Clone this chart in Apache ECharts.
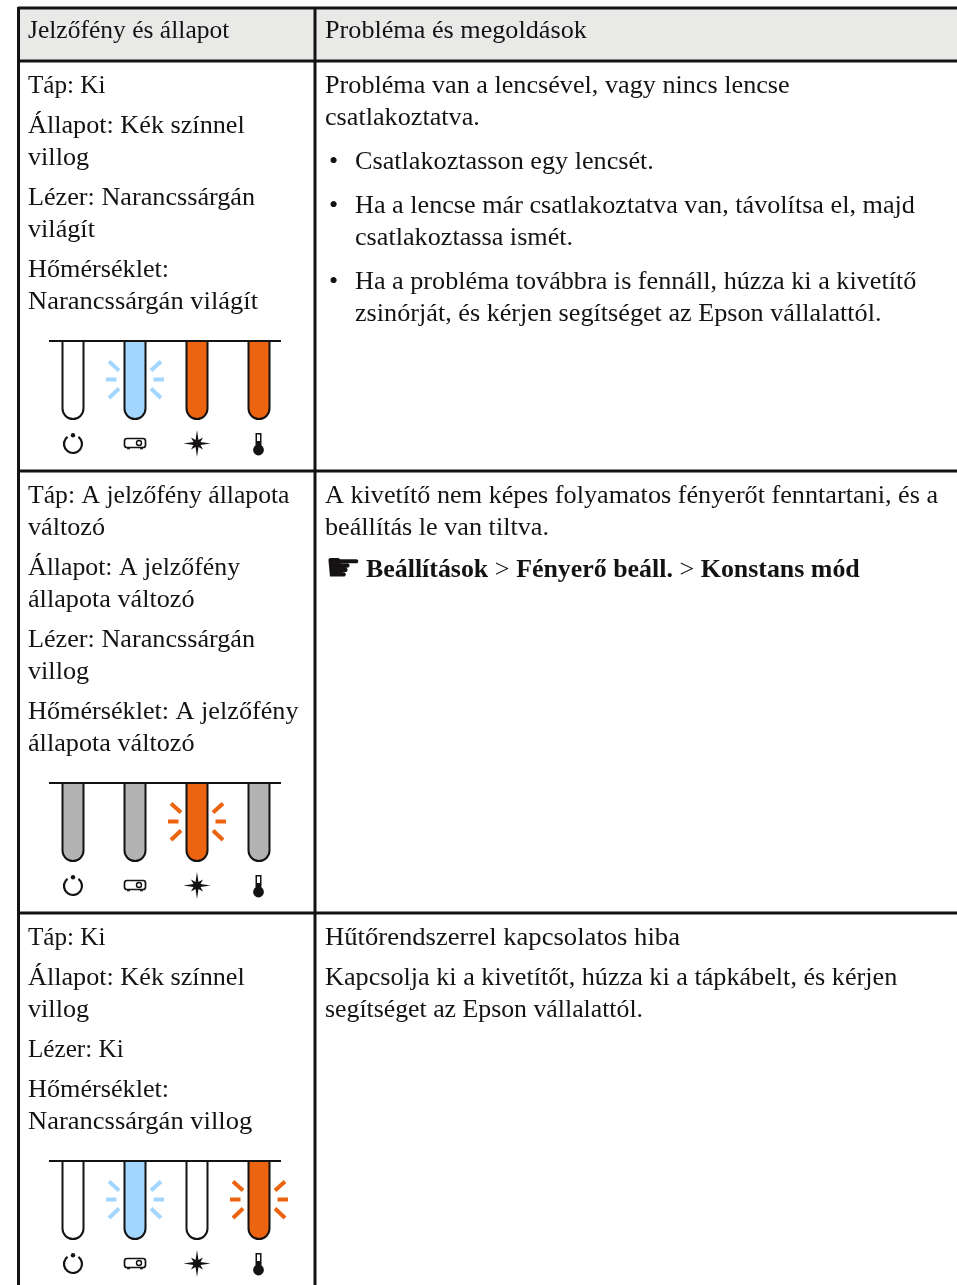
<!DOCTYPE html>
<html>
<head>
<meta charset="utf-8">
<title>Jelzőfény és állapot</title>
<style>
  html, body { margin: 0; padding: 0; background: #fff; }
  #main { width: 957px; height: 1285px; }
</style>
</head>
<body>
<div id="main"></div>
<script src="https://cdn.jsdelivr.net/npm/echarts@6/dist/echarts.min.js"></script>
<script>
// table text, one inner list per paragraph
const headers = ['Jelzőfény és állapot', 'Probléma és megoldások']

const leftRow1 = [['Táp: Ki'], ['Állapot: Kék színnel', 'villog'], ['Lézer: Narancssárgán', 'világít'], ['Hőmérséklet:', 'Narancssárgán világít']]
const leftRow2 = [['Táp: A jelzőfény állapota', 'változó'], ['Állapot: A jelzőfény', 'állapota változó'], ['Lézer: Narancssárgán', 'villog'], ['Hőmérséklet: A jelzőfény', 'állapota változó']]
const leftRow3 = [['Táp: Ki'], ['Állapot: Kék színnel', 'villog'], ['Lézer: Ki'], ['Hőmérséklet:', 'Narancssárgán villog']]

const rightRow1 = [['Probléma van a lencsével, vagy nincs lencse', 'csatlakoztatva.']]
const bulletsRow1 = [['Csatlakoztasson egy lencsét.'], ['Ha a lencse már csatlakoztatva van, távolítsa el, majd', 'csatlakoztassa ismét.'], ['Ha a probléma továbbra is fennáll, húzza ki a kivetítő', 'zsinórját, és kérjen segítséget az Epson vállalattól.']]
const rightRow2 = [['A kivetítő nem képes folyamatos fényerőt fenntartani, és a', 'beállítás le van tiltva.']]
const menuPath = ['Beállítások', 'Fényerő beáll.', 'Konstans mód']
const rightRow3 = [['Hűtőrendszerrel kapcsolatos hiba'], ['Kapcsolja ki a kivetítőt, húzza ki a tápkábelt, és kérjen', 'segítséget az Epson vállalattól.']]

// indicator states: power, status, laser, temperature
const lampsRow1 = ['off', 'blue-blink', 'orange', 'orange']
const lampsRow2 = ['grey', 'grey', 'orange-blink', 'grey']
const lampsRow3 = ['off', 'blue-blink', 'off', 'orange-blink']

const INK = '#141213'
const BLUE = '#a3d6ff'
const ORANGE = '#ec6310'
const GREY = '#b3b3b3'
const FONT = '"Liberation Serif", serif'
const FONT_SIZE = 26.2
const LEFT_X = 28
const RIGHT_X = 325
const LAMP_X = [73, 135, 197, 259]

// the substitute font runs a little wide or narrow on these lines
const LINE_SCALE = {
  'Jelzőfény és állapot': 0.975,
  'Táp: Ki': 0.96,
  'Lézer: Ki': 0.96,
  'Táp: A jelzőfény állapota': 0.98,
  'Állapot: A jelzőfény': 0.985,
  'Narancssárgán világít': 1.013,
  'Narancssárgán villog': 1.013,
  'Hűtőrendszerrel kapcsolatos hiba': 1.017,
  'segítséget az Epson vállalattól.': 0.985
}

// lamp body: open top, round bottom
echarts.graphic.registerShape('tube', echarts.graphic.extendShape({
  shape: { c: 0, y: 0, r: 10.5, h: 78 },
  buildPath(ctx, s) {
    ctx.moveTo(s.c - s.r, s.y)
    ctx.lineTo(s.c - s.r, s.y + s.h - s.r)
    ctx.arc(s.c, s.y + s.h - s.r, s.r, Math.PI, 0, true)
    ctx.lineTo(s.c + s.r, s.y)
    ctx.closePath()
  }
}))

const elements = []

const addLine = (x1, y1, x2, y2, width, color) => {
  elements.push({
    type: 'line',
    shape: { x1, y1, x2, y2 },
    style: { stroke: color || INK, lineWidth: width }
  })
}

const addText = (x, y, text, extra) => {
  elements.push({
    type: 'text',
    x,
    y: y + 1,
    scaleX: LINE_SCALE[text] || 1,
    style: Object.assign({
      text,
      fill: INK,
      font: FONT_SIZE + 'px ' + FONT,
      textVerticalAlign: 'middle',
      textBaseline: 'middle'
    }, extra || {})
  })
}

// writes paragraphs top to bottom, returns y of the last line
const addParagraphs = (x, startY, paragraphs, gap) => {
  let y = startY
  paragraphs.forEach((lines, p) => {
    if (p > 0) y += gap
    lines.forEach((line, i) => {
      if (i > 0) y += 32
      addText(x, y, line)
    })
  })
  return y
}

const addPowerIcon = (c, y) => {
  const gap = 37 * Math.PI / 180
  elements.push({
    type: 'arc',
    shape: { cx: c, cy: y + 103, r: 9, startAngle: -Math.PI / 2 + gap, endAngle: -Math.PI / 2 - gap, clockwise: true },
    style: { stroke: INK, fill: 'none', lineWidth: 2.2 }
  })
  elements.push({ type: 'circle', shape: { cx: c, cy: y + 94.3, r: 2.2 }, style: { fill: INK } })
}

const addProjectorIcon = (c, y) => {
  elements.push({
    type: 'rect',
    shape: { x: c - 10.5, y: y + 97.5, width: 21, height: 9, r: 2.5 },
    style: { stroke: INK, fill: '#fff', lineWidth: 1.7 }
  })
  elements.push({ type: 'circle', shape: { cx: c + 4, cy: y + 102, r: 2.5 }, style: { stroke: INK, fill: '#fff', lineWidth: 1.4 } })
  addLine(c - 8, y + 107.7, c - 5, y + 107.7, 1.2)
  addLine(c + 5, y + 107.7, c + 8, y + 107.7, 1.2)
}

const addStarIcon = (c, y) => {
  const points = []
  const radii = [13.5, 3.8, 8.5, 3.8]
  for (let i = 0; i < 16; i++) {
    const a = i * Math.PI / 8
    const r = radii[i % 4]
    points.push([c + r * Math.sin(a), y + 102.5 - r * Math.cos(a)])
  }
  elements.push({ type: 'polygon', shape: { points }, style: { fill: INK } })
}

const addThermometerIcon = (c, y) => {
  elements.push({ type: 'circle', shape: { cx: c - 0.5, cy: y + 109, r: 5.4 }, style: { fill: INK } })
  elements.push({ type: 'rect', shape: { x: c - 3.5, y: y + 92, width: 6, height: 14 }, style: { fill: INK } })
  elements.push({ type: 'rect', shape: { x: c - 2, y: y + 93.5, width: 3, height: 6.5 }, style: { fill: '#fff' } })
}

const addRays = (c, y, color) => {
  const mid = y + 38.5
  ;[-1, 1].forEach(side => {
    addLine(c + side * 18.5, mid, c + side * 29, mid, 4, color)
    addLine(c + side * 16, mid - 9, c + side * 26, mid - 18, 4, color)
    addLine(c + side * 16, mid + 9, c + side * 26, mid + 18.5, 4, color)
  })
}

const addLamps = (y, states) => {
  const fills = { off: '#fff', grey: GREY, orange: ORANGE, 'orange-blink': ORANGE, 'blue-blink': BLUE }
  const rays = { 'orange-blink': ORANGE, 'blue-blink': BLUE }
  states.forEach((state, i) => {
    const c = LAMP_X[i]
    if (rays[state]) addRays(c, y, rays[state])
    elements.push({
      type: 'tube',
      shape: { c, y },
      style: { fill: fills[state], stroke: INK, lineWidth: 2 }
    })
  })
  addLine(49, y, 281, y, 1.8)
  addPowerIcon(LAMP_X[0], y)
  addProjectorIcon(LAMP_X[1], y)
  addStarIcon(LAMP_X[2], y)
  addThermometerIcon(LAMP_X[3], y)
}

// header band and rules
elements.push({ type: 'rect', shape: { x: 18, y: 8, width: 939, height: 53 }, style: { fill: '#e9e9e8' } })
;[8, 61, 471, 913].forEach(y => addLine(18, y, 957, y, 3))
addLine(18.5, 7, 18.5, 1285, 3)
addLine(315, 7, 315, 1285, 3)

addText(LEFT_X, 30, headers[0])
addText(RIGHT_X, 30, headers[1])

// left column
;[[85, leftRow1, lampsRow1], [495, leftRow2, lampsRow2], [937, leftRow3, lampsRow3]].forEach(([y, paragraphs, lamps]) => {
  const last = addParagraphs(LEFT_X, y, paragraphs, 40)
  addLamps(last + 40, lamps)
})

// right column
const introEnd = addParagraphs(RIGHT_X, 85, rightRow1, 40)
let bulletY = introEnd + 44
bulletsRow1.forEach(lines => {
  addText(RIGHT_X + 4, bulletY, '•')
  const end = addParagraphs(RIGHT_X + 30, bulletY, [lines], 0)
  bulletY = end + 44
})

const row2End = addParagraphs(RIGHT_X, 495, rightRow2, 40)
addText(RIGHT_X, row2End + 42, '{hand|☛}{b|' + menuPath.join('} > {b|') + '}', {
  rich: {
    hand: { font: '41px "DejaVu Sans"', fill: INK, width: 41 },
    b: { font: 'bold 25.9px ' + FONT, fill: INK }
  }
})

addParagraphs(RIGHT_X, 937, rightRow3, 40)

const chart = echarts.init(document.getElementById('main'))
chart.setOption({
  animation: false,
  graphic: { elements: elements.map(el => Object.assign({ silent: true }, el)) }
})
</script>
</body>
</html>
